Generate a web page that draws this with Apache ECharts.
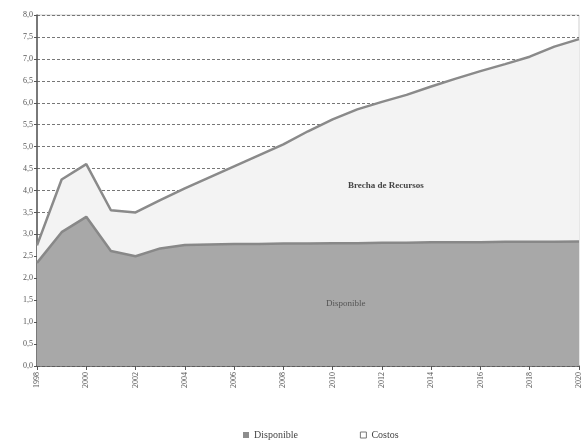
<!doctype html>
<html>
	<head>
		<meta charset="UTF-8">
		<title></title>
		<style>
			html, body { margin: 0; padding: 0; background: #fff; }
			#chart { width: 583px; height: 445px; }
		</style>
	</head>
	<body>
		<div id="chart"></div>
		<script src="https://cdn.jsdelivr.net/npm/echarts@6/dist/echarts.min.js"></script>
		<script type="text/javascript">
			// años del eje x
			var years = ['1998', '1999', '2000', '2001', '2002', '2003', '2004', '2005', '2006', '2007', '2008',
				'2009', '2010', '2011', '2012', '2013', '2014', '2015', '2016', '2017', '2018', '2019', '2020'];
			// recursos disponibles
			var disponible = [2.35, 3.05, 3.4, 2.62, 2.5, 2.68, 2.76, 2.77, 2.78, 2.78, 2.79, 2.79,
				2.8, 2.8, 2.81, 2.81, 2.82, 2.82, 2.82, 2.83, 2.83, 2.83, 2.84];
			// costos
			var costos = [2.75, 4.25, 4.6, 3.55, 3.5, 3.78, 4.05, 4.3, 4.55, 4.8, 5.05, 5.35,
				5.62, 5.85, 6.02, 6.18, 6.37, 6.55, 6.72, 6.88, 7.05, 7.28, 7.45];

			var serif = 'Liberation Serif';
			var myChart = echarts.init(document.getElementById('chart'));
			var option = {
				animation: false,
				textStyle: { fontFamily: serif },
				grid: {
					left: 37,
					right: 4,
					top: 15,
					bottom: 79,
					show: true,
					borderColor: '#cfcfcf',
					borderWidth: 1
				},
				legend: {
					bottom: 0,
					left: 238,
					itemGap: 62,
					itemWidth: 6,
					itemHeight: 6,
					icon: 'rect',
					textStyle: { fontFamily: serif, fontSize: 10, color: '#444' },
					data: [
						{ name: 'Disponible', itemStyle: { color: '#8d8d8d' } },
						{ name: 'Costos', itemStyle: { color: '#fff', borderColor: '#777', borderWidth: 1 } }
					]
				},
				xAxis: {
					type: 'category',
					boundaryGap: false,
					data: years,
					axisLine: { lineStyle: { color: '#555', width: 1.5 } },
					axisTick: { interval: 1, length: 4, lineStyle: { color: '#555' } },
					axisLabel: {
						interval: 1,
						rotate: 90,
						fontSize: 8,
						color: '#555',
						margin: 6
					},
					splitLine: { show: false }
				},
				yAxis: {
					type: 'value',
					min: 0,
					max: 8,
					interval: 0.5,
					axisLine: { show: true, lineStyle: { color: '#555', width: 1.5 } },
					axisTick: { show: true, length: 3, lineStyle: { color: '#555' } },
					axisLabel: {
						fontSize: 8,
						color: '#555',
						margin: 4,
						formatter: function (v) { return v.toFixed(1).replace('.', ','); }
					},
					splitLine: { lineStyle: { color: '#777', type: [3, 2], width: 1 } }
				},
				graphic: [
					{ type: 'text', left: 348, top: 181, z: 100,
						style: { text: 'Brecha de Recursos', fontFamily: serif, fontWeight: 'bold', fontSize: 9, fill: '#444' } },
					{ type: 'text', left: 326, top: 299, z: 100,
						style: { text: 'Disponible', fontFamily: serif, fontSize: 9, fill: '#555' } }
				],
				series: [
					{
						name: 'Costos',
						type: 'line',
						data: costos,
						symbol: 'none',
						z: 2,
						lineStyle: { color: '#8a8a8a', width: 2.5 },
						itemStyle: { color: '#fff', borderColor: '#777' },
						areaStyle: { color: '#f3f3f3', opacity: 1 }
					},
					{
						name: 'Disponible',
						type: 'line',
						data: disponible,
						symbol: 'none',
						z: 3,
						lineStyle: { color: '#888', width: 2.5 },
						itemStyle: { color: '#8d8d8d' },
						areaStyle: { color: '#a8a8a8', opacity: 1 }
					}
				]
			};
			myChart.setOption(option);
		</script>
	</body>
</html>
